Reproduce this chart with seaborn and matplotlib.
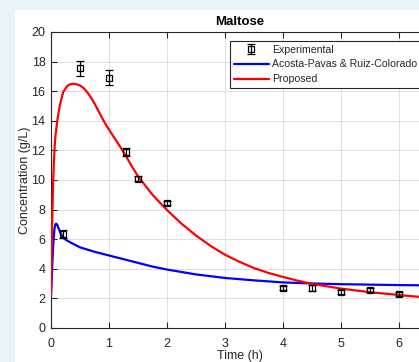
import matplotlib
matplotlib.use("Agg")
import matplotlib.pyplot as plt
import seaborn as sns
import pandas as pd
from matplotlib.patches import Rectangle

# ---- data ----
exp_time = [0.2, 0.5, 1.0, 1.3, 1.5, 2.0, 4.0, 4.5, 5.0, 5.5, 6.0]
exp_conc = [6.35, 17.55, 16.9, 11.9, 10.1, 8.45, 2.7, 2.7, 2.42, 2.58, 2.3]
exp_err = [0.3, 0.5, 0.5, 0.25, 0.2, 0.15, 0.15, 0.2, 0.15, 0.15, 0.15]

acosta_time = [0.0, 0.015, 0.03, 0.045, 0.06, 0.075, 0.09, 0.11, 0.13, 0.16, 0.21,
               0.27, 0.35, 0.5, 0.75, 1.0, 1.25, 1.5, 1.75, 2.0, 2.5, 3.0,
               3.5, 4.0, 4.5, 5.0, 5.5, 6.0, 6.5]
acosta_conc = [2.2, 3.6, 5.0, 6.0, 6.7, 7.0, 7.05, 6.95, 6.75, 6.45, 6.1,
               5.92, 5.75, 5.45, 5.15, 4.9, 4.65, 4.4, 4.15, 3.95, 3.62, 3.38,
               3.22, 3.08, 3.01, 2.96, 2.93, 2.9, 2.88]

proposed_time = [0.0, 0.01, 0.02, 0.035, 0.05, 0.065, 0.08, 0.11, 0.15, 0.21, 0.28,
                 0.33, 0.385, 0.45, 0.5, 0.55, 0.6, 0.65, 0.7, 0.75, 0.8, 0.85,
                 0.9, 0.95, 1.0, 1.12, 1.25, 1.375, 1.5, 1.75, 2.0, 2.25, 2.5,
                 2.75, 3.0, 3.25, 3.5, 3.75, 4.0, 4.25, 4.5, 5.0, 5.5, 6.0, 6.5]
proposed_conc = [2.2, 4.8, 7.2, 9.6, 11.3, 12.4, 13.1, 14.05, 15.0, 15.95, 16.35,
                 16.47, 16.5, 16.46, 16.38, 16.25, 16.05, 15.8, 15.5, 15.17, 14.8, 14.43,
                 14.05, 13.72, 13.4, 12.68, 11.9, 11.05, 10.25, 9.0, 7.97, 7.05, 6.25,
                 5.55, 4.95, 4.47, 4.05, 3.72, 3.45, 3.2, 2.98, 2.66, 2.42, 2.23, 2.05]

title = "Maltose"
xlabel = "Time (h)"
ylabel = "Concentration (g/L)"
labels = ["Experimental", "Acosta-Pavas & Ruiz-Colorado", "Proposed"]

# ---- figure ----
sns.set_theme(style="white")
plt.rcParams['font.family'] = ['Liberation Sans', 'DejaVu Sans']

W, H = 419, 362
fig = plt.figure(figsize=(W / 100, H / 100), dpi=100)
fig.patch.set_facecolor("#E9F4FA")
bg = Rectangle((15 / W, 0), 1 - 15 / W, (H - 10) / H,
               transform=fig.transFigure, facecolor="white",
               edgecolor="none", zorder=-10)
fig.patches.append(bg)

x0, x1 = 51, 428
y_top, y_bot = 32, 328
ax = fig.add_axes([x0 / W, (H - y_bot) / H, (x1 - x0) / W, (y_bot - y_top) / H])
ax.set_zorder(1)
ax.set_facecolor("white")

df_a = pd.DataFrame({"t": acosta_time, "c": acosta_conc})
df_p = pd.DataFrame({"t": proposed_time, "c": proposed_conc})

ax.errorbar(exp_time, exp_conc, yerr=exp_err, fmt="s", mfc="none", mec="black",
            ecolor="black", color="black", ms=4.5, mew=0.9, elinewidth=0.9,
            capsize=3, capthick=0.9, label=labels[0], zorder=4)
sns.lineplot(data=df_a, x="t", y="c", ax=ax, color="#0000FF", lw=1.6,
             sort=False, estimator=None, label=labels[1], zorder=3)
sns.lineplot(data=df_p, x="t", y="c", ax=ax, color="#FF0000", lw=1.6,
             sort=False, estimator=None, label=labels[2], zorder=3)

ax.set_xlim(0, 6.5)
ax.set_ylim(0, 20)
ax.set_xticks(range(0, 7))
ax.set_yticks(range(0, 21, 2))
ax.grid(True, color="#DEDEDE", lw=0.7)
for s in ax.spines.values():
    s.set_color("#262626")
    s.set_linewidth(0.8)
ax.tick_params(direction="in", length=4, width=0.8, color="#262626",
               labelcolor="#262626", labelsize=9, top=True, right=True,
               bottom=True, left=True)
ax.tick_params(axis="x", pad=7)
ax.tick_params(axis="y", pad=4)

ax.set_title(title, fontsize=9.5, fontweight="bold", color="black", pad=5)
ax.set_xlabel(xlabel, fontsize=9, color="#262626", labelpad=0)
ax.set_ylabel(ylabel, fontsize=9, color="#262626", labelpad=0)

handles, lbls = ax.get_legend_handles_labels()
order = [lbls.index(l) for l in labels]
leg = ax.legend([handles[i] for i in order], [lbls[i] for i in order],
                loc="upper left",
                bbox_to_anchor=((230 - x0) / (x1 - x0), 1 - (41 - y_top) / (y_bot - y_top)),
                borderaxespad=0, fontsize=7.6, frameon=True, fancybox=False,
                edgecolor="#262626", framealpha=1, handlelength=3.3,
                handletextpad=0.3, borderpad=0.35, labelspacing=0.45)
leg.get_frame().set_linewidth(0.8)

fig.savefig("out.png", dpi=100, facecolor=fig.get_facecolor())
